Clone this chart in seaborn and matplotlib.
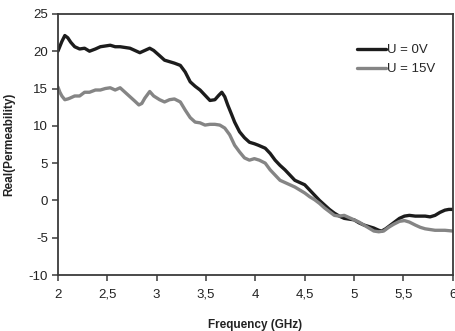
import numpy as np
import pandas as pd
import matplotlib
matplotlib.use("Agg")
import matplotlib.pyplot as plt
import seaborn as sns

freq_0v = [2.00, 2.04, 2.07, 2.10, 2.13, 2.17, 2.22, 2.27, 2.32, 2.38, 2.43, 2.48, 2.53, 2.58,
           2.63, 2.68, 2.73, 2.78, 2.83, 2.88, 2.93, 2.97, 3.03, 3.08, 3.13, 3.18, 3.24, 3.29,
           3.34, 3.39, 3.44, 3.49, 3.54, 3.59, 3.63, 3.66, 3.69, 3.72, 3.76, 3.79, 3.84, 3.89,
           3.94, 3.99, 4.03, 4.10, 4.15, 4.20, 4.25, 4.30, 4.35, 4.40, 4.45, 4.50, 4.55, 4.60,
           4.65, 4.70, 4.75, 4.80, 4.85, 4.90, 4.95, 5.00, 5.05, 5.10, 5.15, 5.20, 5.25, 5.28,
           5.32, 5.36, 5.41, 5.46, 5.51, 5.56, 5.62, 5.67, 5.72, 5.77, 5.82, 5.87, 5.92, 5.96, 6.00]
perm_0v = [20.0, 21.3, 22.1, 21.8, 21.2, 20.6, 20.3, 20.4, 20.0, 20.3, 20.6, 20.7, 20.8, 20.6,
           20.6, 20.5, 20.4, 20.1, 19.8, 20.1, 20.4, 20.1, 19.4, 18.8, 18.6, 18.4, 18.1, 17.2,
           15.9, 15.3, 14.8, 14.1, 13.4, 13.5, 14.1, 14.5, 13.9, 12.8, 11.5, 10.5, 9.2, 8.4,
           7.8, 7.6, 7.4, 7.0, 6.3, 5.4, 4.7, 4.1, 3.4, 2.7, 2.4, 2.1, 1.4, 0.7,
           0.0, -0.6, -1.2, -1.7, -2.1, -2.4, -2.5, -2.6, -3.0, -3.3, -3.5, -3.7, -4.0, -4.1,
           -3.8, -3.4, -2.9, -2.4, -2.1, -2.0, -2.1, -2.1, -2.1, -2.2, -2.0, -1.6, -1.3, -1.2, -1.2]

freq_15v = [2.00, 2.02, 2.04, 2.07, 2.10, 2.12, 2.17, 2.22, 2.27, 2.32, 2.38, 2.43, 2.48, 2.53,
            2.58, 2.63, 2.68, 2.73, 2.78, 2.82, 2.85, 2.88, 2.93, 2.97, 3.03, 3.08, 3.13, 3.18,
            3.24, 3.29, 3.34, 3.39, 3.44, 3.49, 3.54, 3.59, 3.64, 3.69, 3.74, 3.79, 3.84, 3.89,
            3.94, 3.99, 4.04, 4.10, 4.15, 4.20, 4.25, 4.30, 4.35, 4.40, 4.45, 4.50, 4.55, 4.60,
            4.65, 4.70, 4.75, 4.80, 4.85, 4.90, 4.95, 5.00, 5.05, 5.10, 5.15, 5.20, 5.25, 5.30,
            5.35, 5.40, 5.46, 5.51, 5.56, 5.62, 5.67, 5.72, 5.77, 5.82, 5.87, 5.92, 6.00]
perm_15v = [15.2, 14.5, 14.0, 13.5, 13.6, 13.7, 14.0, 14.0, 14.5, 14.5, 14.8, 14.8, 15.0, 15.1,
            14.8, 15.1, 14.5, 13.9, 13.3, 12.8, 13.0, 13.7, 14.6, 14.0, 13.5, 13.2, 13.5, 13.6,
            13.2, 12.1, 11.1, 10.5, 10.4, 10.1, 10.2, 10.2, 10.1, 9.7, 8.8, 7.4, 6.5, 5.7,
            5.4, 5.6, 5.4, 5.0, 4.1, 3.4, 2.7, 2.4, 2.1, 1.8, 1.4, 1.0, 0.5, 0.1,
            -0.4, -1.0, -1.5, -2.0, -2.1, -2.0, -2.3, -2.6, -2.9, -3.3, -3.7, -4.1, -4.2, -4.1,
            -3.6, -3.2, -2.8, -2.7, -2.9, -3.3, -3.6, -3.8, -3.9, -4.0, -4.0, -4.0, -4.1]

series_names = ["U = 0V", "U = 15V"]
x_ticks = [2, 2.5, 3, 3.5, 4, 4.5, 5, 5.5, 6]
x_tick_labels = ["2", "2,5", "3", "3,5", "4", "4,5", "5", "5,5", "6"]
y_ticks = [-10, -5, 0, 5, 10, 15, 20, 25]

df = pd.concat([
    pd.DataFrame({"freq": freq_0v, "perm": perm_0v, "series": series_names[0]}),
    pd.DataFrame({"freq": freq_15v, "perm": perm_15v, "series": series_names[1]}),
], ignore_index=True)

sns.set_style("white")
plt.rcParams['font.family'] = ['Liberation Sans', 'DejaVu Sans']
plt.rcParams['axes.unicode_minus'] = False

fig = plt.figure(figsize=(4.56, 3.31), dpi=100)
ax = fig.add_axes([0.127, 0.169, 0.866, 0.789])

sns.lineplot(data=df, x="freq", y="perm", hue="series",
             palette={series_names[0]: "#1c1c1c", series_names[1]: "#858585"},
             linewidth=2.4, ax=ax, sort=False, estimator=None)

ax.set_xlim(2, 6)
ax.set_ylim(-10, 25)
ax.set_xticks(x_ticks)
ax.set_xticklabels(x_tick_labels)
ax.set_yticks(y_ticks)
for s in ax.spines.values():
    s.set_color("#3a3a3a")
    s.set_linewidth(1.3)
ax.tick_params(axis="both", direction="out", length=4, width=1.1, color="#3a3a3a",
               labelsize=9.5, labelcolor="#222222", pad=3)
ax.tick_params(axis="x", pad=6)
ax.tick_params(left=True, bottom=True)

ax.set_xlabel("Frequency (GHz)", fontsize=8.5, fontweight="bold", color="#222222")
ax.set_ylabel("Real(Permeability)", fontsize=8.5, fontweight="bold", color="#222222")
ax.xaxis.set_label_coords(0.5, -0.17)
ax.yaxis.set_label_coords(-0.108, 0.5)

leg = ax.legend(loc="upper right", bbox_to_anchor=(0.985, 0.93), frameon=False,
                handlelength=2.2, handletextpad=0.05, fontsize=9.5, labelspacing=0.5)
for line in leg.get_lines():
    line.set_linewidth(2.4)

fig.savefig("out.png", dpi=100)
